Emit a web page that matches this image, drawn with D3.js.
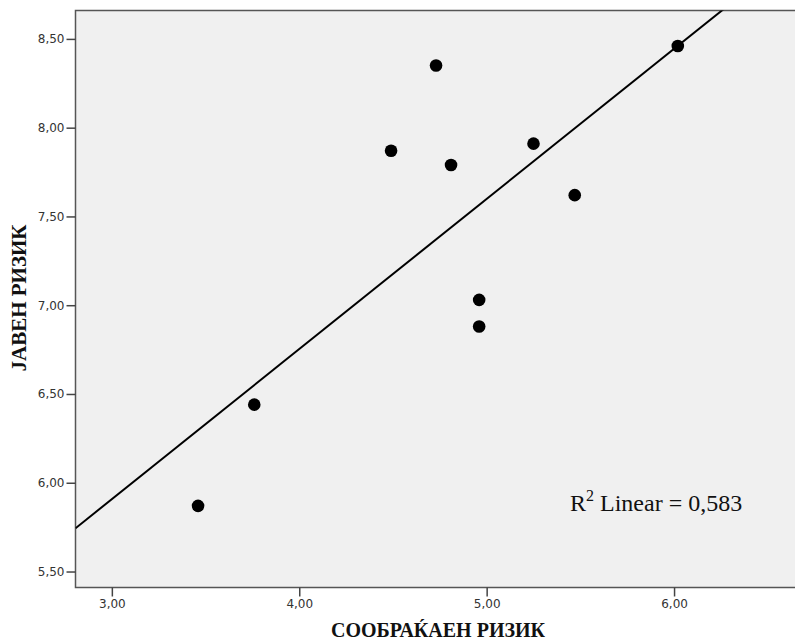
<!DOCTYPE html>
<html>
<head>
<meta charset="utf-8">
<style>
body { margin: 0; background: #fff; }
.tick text { font-family: "DejaVu Sans", sans-serif; font-size: 12px; fill: #333; }
.tick line { stroke: #444; stroke-width: 1.5; }
.axis .domain { display: none; }
.title { font-family: "Liberation Serif", "Times New Roman", serif; font-weight: bold; fill: #111; }
</style>
</head>
<body>
<svg width="795" height="642"></svg>
<script src="https://cdn.jsdelivr.net/npm/d3@7"></script>
<script>

var soobrakjaen = [3.46, 3.76, 4.73, 4.49, 4.81, 5.25, 5.47, 4.96, 4.96, 6.02];
var javen       = [5.87, 6.44, 8.35, 7.87, 7.79, 7.91, 7.62, 7.03, 6.88, 8.46];

var xTicks = [3, 4, 5, 6];
var yTicks = [5.5, 6, 6.5, 7, 7.5, 8, 8.5];

var xTitle = "СООБРАЌАЕН РИЗИК",
    yTitle = "ЈАВЕН РИЗИК",
    r2Text = "0,583";

var svg = d3.select("svg"),
    pLeft = 75.5, pTop = 10.5, pRight = 800, pBottom = 587.5;

var x = d3.scaleLinear().domain([2.806, 6.646]).range([pLeft, pLeft + (6.646 - 2.806) * 187.4]);
var y = d3.scaleLinear().domain([5.41, 8.66]).range([pBottom, pTop]);

var fmt = function(d) { return d3.format(".2f")(d).replace(".", ","); };

svg.append("clipPath").attr("id", "plot")
  .append("rect")
    .attr("x", pLeft).attr("y", pTop)
    .attr("width", pRight - pLeft).attr("height", pBottom - pTop);

svg.append("rect")
    .attr("x", pLeft).attr("y", pTop)
    .attr("width", pRight - pLeft).attr("height", pBottom - pTop)
    .attr("fill", "#f0f0f0")
    .attr("stroke", "#555")
    .attr("stroke-width", 1.5);

svg.append("g")
    .attr("class", "axis")
    .attr("transform", "translate(0," + pBottom + ")")
    .call(d3.axisBottom(x).tickValues(xTicks).tickFormat(fmt).tickSize(9).tickPadding(3));

svg.append("g")
    .attr("class", "axis")
    .attr("transform", "translate(" + pLeft + ",0)")
    .call(d3.axisLeft(y).tickValues(yTicks).tickFormat(fmt).tickSize(9).tickPadding(2));

// least squares fit line
var mx = d3.mean(soobrakjaen),
    my = d3.mean(javen),
    sxy = d3.sum(soobrakjaen, function(v, i) { return (v - mx) * (javen[i] - my); }),
    sxx = d3.sum(soobrakjaen, function(v) { return (v - mx) * (v - mx); }),
    b = sxy / sxx,
    a = my - b * mx;

var xs = x.domain();
svg.append("line")
    .attr("clip-path", "url(#plot)")
    .attr("x1", x(xs[0])).attr("y1", y(a + b * xs[0]))
    .attr("x2", x(xs[1])).attr("y2", y(a + b * xs[1]))
    .attr("stroke", "#000")
    .attr("stroke-width", 2);

svg.append("g")
  .selectAll("circle")
  .data(soobrakjaen)
  .enter().append("circle")
    .attr("cx", function(d) { return x(d); })
    .attr("cy", function(d, i) { return y(javen[i]); })
    .attr("r", 6.3)
    .attr("fill", "#000");

var r2 = svg.append("text")
    .attr("x", 570).attr("y", 511)
    .attr("font-family", "Liberation Serif, Times New Roman, serif")
    .attr("font-size", 24)
    .attr("fill", "#111");
r2.append("tspan").text("R");
r2.append("tspan").attr("font-size", 16).attr("dy", -10).text("2");
r2.append("tspan").attr("dy", 10).text(" Linear = " + r2Text);

svg.append("text")
    .attr("class", "title")
    .attr("x", 438)
    .attr("y", 637)
    .attr("text-anchor", "middle")
    .attr("font-size", 20)
    .text(xTitle);

svg.append("text")
    .attr("class", "title")
    .attr("transform", "translate(26,298) rotate(-90)")
    .attr("text-anchor", "middle")
    .attr("font-size", 21)
    .text(yTitle);

</script>
</body>
</html>
